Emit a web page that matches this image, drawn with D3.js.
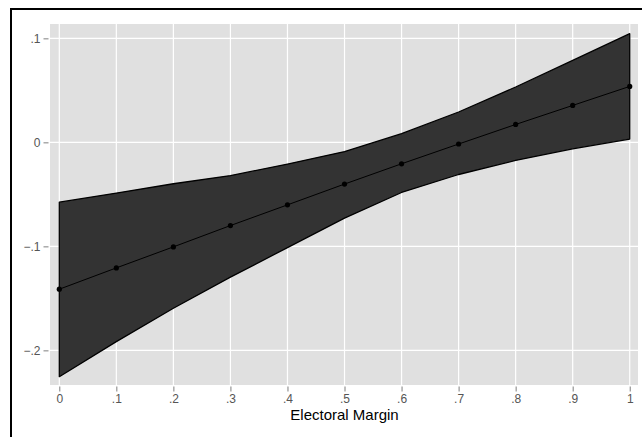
<!DOCTYPE html>
<html>
<head>
<meta charset="utf-8">
<script src="https://cdn.jsdelivr.net/npm/d3@7"></script>
<style>
  html, body { margin: 0; padding: 0; background: #ffffff; }
  svg { display: block; }
</style>
</head>
<body>
<svg id="chart" width="642" height="437"></svg>
<script>
// ---- data ----
const margins = [0, 0.1, 0.2, 0.3, 0.4, 0.5, 0.6, 0.7, 0.8, 0.9, 1.0];
const estimate = [-0.1412, -0.1207, -0.1005, -0.0800, -0.0601, -0.0401, -0.0206, -0.0016, 0.0172, 0.0355, 0.0538];
const upperCI = [-0.0575, -0.0488, -0.0398, -0.0319, -0.0209, -0.0088, 0.0083, 0.0292, 0.0532, 0.0788, 0.1045];
const lowerCI = [-0.2253, -0.1916, -0.1595, -0.1296, -0.1012, -0.0729, -0.0482, -0.0309, -0.0174, -0.0062, 0.0032];
const xTicks = [0, 0.1, 0.2, 0.3, 0.4, 0.5, 0.6, 0.7, 0.8, 0.9, 1.0];
const xTickLabels = ["0", ".1", ".2", ".3", ".4", ".5", ".6", ".7", ".8", ".9", "1"];
const yTicks = [-0.2, -0.1, 0, 0.1];
const yTickLabels = ["\u2212.2", "\u2212.1", "0", ".1"];
const xTitle = "Electoral Margin";

const rows = margins.map((m, i) => ({ m, est: estimate[i], lo: lowerCI[i], hi: upperCI[i] }));

// ---- layout ----
const svg = d3.select("#chart");
const panel = { left: 50, top: 24, right: 638, bottom: 385 };

const x = d3.scaleLinear().domain([-0.0163, 1.0145]).range([panel.left, panel.right]);
const y = d3.scaleLinear().domain([-0.2333, 0.1138]).range([panel.bottom, panel.top]);

// outer frame
svg.append("rect")
  .attr("x", 11).attr("y", 9)
  .attr("width", 700).attr("height", 500)
  .attr("fill", "none").attr("stroke", "#000").attr("stroke-width", 2);

// panel background
svg.append("rect")
  .attr("x", panel.left).attr("y", panel.top)
  .attr("width", panel.right - panel.left).attr("height", panel.bottom - panel.top)
  .attr("fill", "#e0e0e0");

// gridlines
const grid = svg.append("g");
grid.selectAll("line.v").data(xTicks).join("line")
  .attr("x1", d => x(d)).attr("x2", d => x(d))
  .attr("y1", panel.top).attr("y2", panel.bottom)
  .attr("stroke", "#fff").attr("stroke-width", 1.2);
grid.selectAll("line.h").data(yTicks).join("line")
  .attr("y1", d => y(d)).attr("y2", d => y(d))
  .attr("x1", panel.left).attr("x2", panel.right)
  .attr("stroke", "#fff").attr("stroke-width", 1.2);

// ribbon
const area = d3.area().x(d => x(d.m)).y0(d => y(d.lo)).y1(d => y(d.hi));
svg.append("path").datum(rows)
  .attr("d", area(rows) + "Z")
  .attr("fill", "#333333").attr("stroke", "#000").attr("stroke-width", 1.3)
  .attr("stroke-linejoin", "round");

// estimate line
const line = d3.line().x(d => x(d.m)).y(d => y(d.est));
svg.append("path").datum(rows)
  .attr("d", line)
  .attr("fill", "none").attr("stroke", "#000").attr("stroke-width", 1);

svg.append("g").selectAll("circle").data(rows).join("circle")
  .attr("cx", d => x(d.m)).attr("cy", d => y(d.est)).attr("r", 2.6)
  .attr("fill", "#000");

// axes
const font = "'Liberation Sans', Arial, Helvetica, sans-serif";
const xAxis = d3.axisBottom(x).tickValues(xTicks)
  .tickFormat((d, i) => xTickLabels[i]).tickSize(5).tickPadding(3);
const gx = svg.append("g").attr("transform", `translate(0,${panel.bottom + 1.5})`).call(xAxis);
gx.select(".domain").remove();
gx.selectAll(".tick line").attr("stroke", "#7f7f7f");
gx.selectAll(".tick text").attr("fill", "#555").style("font-family", font).style("font-size", "12px");

const yAxis = d3.axisLeft(y).tickValues(yTicks)
  .tickFormat((d, i) => yTickLabels[i]).tickSize(5).tickPadding(3);
const gy = svg.append("g").attr("transform", `translate(${panel.left - 1.5},0)`).call(yAxis);
gy.select(".domain").remove();
gy.selectAll(".tick line").attr("stroke", "#7f7f7f");
gy.selectAll(".tick text").attr("fill", "#555").style("font-family", font).style("font-size", "12px");

// axis title
svg.append("text")
  .attr("x", (x(0) + x(1)) / 2).attr("y", 420)
  .attr("text-anchor", "middle")
  .style("font-family", font).style("font-size", "15px").attr("fill", "#000")
  .text(xTitle);
</script>
</body>
</html>
